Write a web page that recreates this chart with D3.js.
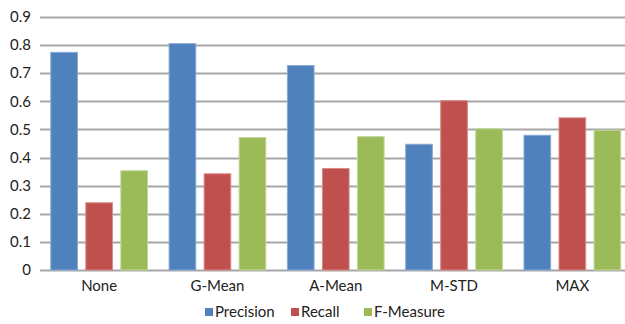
<!DOCTYPE html>
<html>
<head>
<meta charset="utf-8">
<script src="https://cdn.jsdelivr.net/npm/d3@7"></script>
<style>
  html, body { margin: 0; padding: 0; background: #fff; }
  svg { display: block; font-family: Lato, "Open Sans", sans-serif; }
</style>
</head>
<body>
<svg id="chart" width="625" height="324"></svg>
<script>
// Threshold methods compared on the x axis
const categories = ["None", "G-Mean", "A-Mean", "M-STD", "MAX"];
const seriesNames = ["Precision", "Recall", "F-Measure"];
const precision = [0.776, 0.807, 0.729, 0.449, 0.481];
const recall    = [0.241, 0.344, 0.363, 0.604, 0.543];
const fMeasure  = [0.355, 0.473, 0.476, 0.504, 0.499];
const seriesColors = ["#4F81BD", "#C0504D", "#9BBB59"];
const seriesEdges  = ["#8aa9d3", "#d78a88", "#c3d69b"];
const yTicks = [0, 0.1, 0.2, 0.3, 0.4, 0.5, 0.6, 0.7, 0.8, 0.9];
const yTickLabels = ["0", "0.1", "0.2", "0.3", "0.4", "0.5", "0.6", "0.7", "0.8", "0.9"];

const values = [precision, recall, fMeasure];

const svg = d3.select("#chart");
const plotLeft = 40, plotRight = 631.5, plotTop = 17, plotBottom = 270;

const y = d3.scaleLinear().domain([0, 0.9]).range([plotBottom, plotTop]);
const x0 = d3.scaleBand().domain(categories).range([plotLeft, plotRight])
  .paddingInner(0.174).paddingOuter(0.087);
const x1 = d3.scaleBand().domain(seriesNames).range([0, x0.bandwidth()])
  .paddingInner(0.21).paddingOuter(0);

// Horizontal gridlines
svg.append("g").selectAll("line").data(yTicks).join("line")
  .attr("x1", plotLeft).attr("x2", 625)
  .attr("y1", d => Math.round(y(d)) + 0.5).attr("y2", d => Math.round(y(d)) + 0.5)
  .attr("stroke", "#a6a6a6").attr("stroke-width", 2);

// Y tick labels
svg.append("g").selectAll("text").data(yTicks).join("text")
  .attr("x", 31).attr("y", d => y(d)).attr("dy", "0.35em")
  .attr("text-anchor", "end").attr("font-size", 15).attr("fill", "#222")
  .text((d, i) => yTickLabels[i]);

// Bars
const groups = svg.append("g").selectAll("g").data(categories).join("g")
  .attr("transform", c => `translate(${x0(c)},0)`);
groups.selectAll("rect")
  .data((c, ci) => seriesNames.map((s, si) => ({ s, si, v: values[si][ci] })))
  .join("rect")
  .attr("x", d => x1(d.s) + 0.5)
  .attr("width", x1.bandwidth() - 1)
  .attr("y", d => y(d.v) + 0.5)
  .attr("height", d => y(0) - y(d.v) - 0.5)
  .attr("fill", d => seriesColors[d.si])
  .attr("stroke", d => seriesEdges[d.si]).attr("stroke-width", 1);

// Category labels
svg.append("g").selectAll("text").data(categories).join("text")
  .attr("x", c => x0(c) + x0.bandwidth() / 2).attr("y", 291)
  .attr("text-anchor", "middle").attr("font-size", 15).attr("fill", "#222")
  .text(c => c);

// Legend
const legendX = [205, 291, 364];
const legend = svg.append("g").selectAll("g").data(seriesNames).join("g")
  .attr("transform", (d, i) => `translate(${legendX[i]},0)`);
legend.append("rect").attr("x", 0).attr("y", 308).attr("width", 8).attr("height", 8)
  .attr("fill", (d, i) => seriesColors[i]);
legend.append("text").attr("x", 10).attr("y", 317)
  .attr("font-size", 15).attr("fill", "#222").text(d => d);
</script>
</body>
</html>
